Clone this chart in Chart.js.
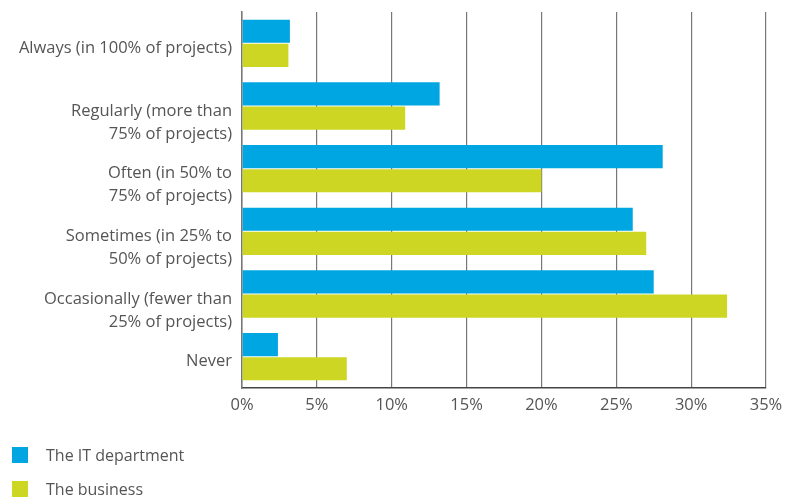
<!DOCTYPE html>
<html>
<head>
<meta charset="utf-8">
<script src="https://cdn.jsdelivr.net/npm/chart.js@4"></script>
<style>
  html, body { margin: 0; padding: 0; background: #fff; }
  #wrap { position: relative; width: 798px; height: 497px; }
  #legend { position: absolute; left: 12px; top: 438px; font-family: "Open Sans", sans-serif; font-size: 16px; color: #555; }
  .item { display: flex; align-items: center; height: 34px; }
  .box { width: 16px; height: 16px; margin-right: 18px; }
</style>
</head>
<body>
<div id="wrap">
  <canvas id="myChart" width="798" height="497"></canvas>
  <div id="legend"></div>
</div>
<script>
const categories = [
    'Always (in 100% of projects)',
    ['Regularly (more than', '75% of projects)'],
    ['Often (in 50% to', '75% of projects)'],
    ['Sometimes (in 25% to', '50% of projects)'],
    ['Occasionally (fewer than', '25% of projects)'],
    'Never'
];
const itDepartment = [3.2, 13.2, 28.1, 26.1, 27.5, 2.4];
const business = [3.1, 10.9, 20.0, 27.0, 32.4, 7.0];
const seriesNames = ['The IT department', 'The business'];
const seriesColors = ['#00a6e2', '#cdd723'];

const textColor = '#555';
const font = { family: '"Open Sans", sans-serif', size: 16.5, lineHeight: 1.4 };

const ctx = document.getElementById('myChart');
const chart = new Chart(ctx, {
    type: 'bar',
    data: {
        labels: categories,
        datasets: [
            { label: seriesNames[0], data: itDepartment, backgroundColor: seriesColors[0] },
            { label: seriesNames[1], data: business, backgroundColor: seriesColors[1] }
        ]
    },
    options: {
        indexAxis: 'y',
        responsive: false,
        animation: false,
        categoryPercentage: 0.77,
        barPercentage: 0.96,
        layout: { padding: { top: 12, right: 32, bottom: 77, left: 0 } },
        plugins: {
            legend: { display: false },
            tooltip: { enabled: false }
        },
        scales: {
            x: {
                min: 0,
                max: 35,
                ticks: {
                    stepSize: 5,
                    color: textColor,
                    font: font,
                    padding: 6,
                    callback: v => v + '%'
                },
                grid: { color: '#777', lineWidth: 1.2, drawTicks: false },
                border: { color: '#444', width: 1.5 },
                afterFit: s => { s.height = 32; }
            },
            y: {
                ticks: {
                    color: textColor,
                    font: font,
                    padding: 10,
                    labelOffset: 5,
                    autoSkip: false,
                    // two-line labels start at the band centre and run downwards
                    callback: (v, i) => {
                        const l = categories[i];
                        return Array.isArray(l) ? [''].concat(l) : l;
                    }
                },
                grid: { display: false, drawTicks: false },
                border: { color: '#777', width: 1.5 },
                afterFit: s => {
                    s.width = 242;
                    s.paddingTop = 0;
                    s.paddingBottom = 0;
                }
            }
        }
    }
});

// legend stacked under the chart
const legend = document.getElementById('legend');
chart.data.datasets.forEach(ds => {
    const row = document.createElement('div');
    row.className = 'item';
    const box = document.createElement('span');
    box.className = 'box';
    box.style.background = ds.backgroundColor;
    const txt = document.createElement('span');
    txt.textContent = ds.label;
    row.appendChild(box);
    row.appendChild(txt);
    legend.appendChild(row);
});
</script>
</body>
</html>
